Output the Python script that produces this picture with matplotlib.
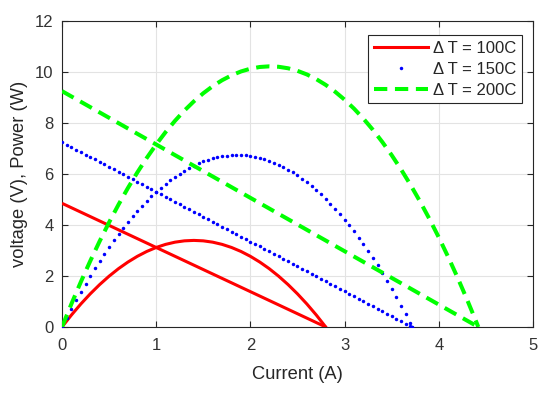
import matplotlib
matplotlib.use("Agg")
import matplotlib.pyplot as plt
from matplotlib.lines import Line2D

plt.rcParams['font.family'] = ['Liberation Sans', 'DejaVu Sans']

# ---- data ----
labels = ["\u0394 T = 100C", "\u0394 T = 150C", "\u0394 T = 200C"]

# dT = 100C
red_v_current = [0.0, 2.8]
red_voltage = [4.85, 0.0]
red_p_current = [0.0, 0.1, 0.2, 0.3, 0.4, 0.5, 0.6, 0.7, 0.8, 0.9, 1.0, 1.1, 1.2, 1.3,
                 1.4, 1.5, 1.6, 1.7, 1.8, 1.9, 2.0, 2.1, 2.2, 2.3, 2.4, 2.5, 2.6, 2.7, 2.8]
red_power = [0.0, 0.468, 0.901, 1.299, 1.663, 1.992, 2.287, 2.546, 2.771, 2.962, 3.118,
             3.239, 3.326, 3.378, 3.395, 3.378, 3.326, 3.239, 3.118, 2.962, 2.771, 2.546,
             2.287, 1.992, 1.663, 1.299, 0.901, 0.468, 0.0]

# dT = 150C (sampled points, drawn as dots)
blue_current = [0.00, 0.05, 0.10, 0.15, 0.20, 0.25, 0.30, 0.35, 0.40, 0.45, 0.50, 0.55,
                0.60, 0.65, 0.70, 0.75, 0.80, 0.85, 0.90, 0.95, 1.00, 1.05, 1.10, 1.15,
                1.20, 1.25, 1.30, 1.35, 1.40, 1.45, 1.50, 1.55, 1.60, 1.65, 1.70, 1.75,
                1.80, 1.85, 1.90, 1.95, 2.00, 2.05, 2.10, 2.15, 2.20, 2.25, 2.30, 2.35,
                2.40, 2.45, 2.50, 2.55, 2.60, 2.65, 2.70, 2.75, 2.80, 2.85, 2.90, 2.95,
                3.00, 3.05, 3.10, 3.15, 3.20, 3.25, 3.30, 3.35, 3.40, 3.45, 3.50, 3.55,
                3.60, 3.65, 3.70, 3.72]
blue_voltage = [7.250, 7.153, 7.055, 6.958, 6.860, 6.763, 6.665, 6.568, 6.470, 6.373,
                6.276, 6.178, 6.081, 5.983, 5.886, 5.788, 5.691, 5.593, 5.496, 5.399,
                5.301, 5.204, 5.106, 5.009, 4.911, 4.814, 4.716, 4.619, 4.521, 4.424,
                4.327, 4.229, 4.132, 4.034, 3.937, 3.839, 3.742, 3.645, 3.547, 3.450,
                3.352, 3.255, 3.157, 3.060, 2.962, 2.865, 2.768, 2.670, 2.573, 2.475,
                2.378, 2.280, 2.183, 2.085, 1.988, 1.890, 1.793, 1.696, 1.598, 1.501,
                1.403, 1.306, 1.208, 1.111, 1.013, 0.916, 0.819, 0.721, 0.624, 0.526,
                0.429, 0.331, 0.234, 0.136, 0.039, 0.000]
blue_power = [0.000, 0.358, 0.706, 1.044, 1.372, 1.691, 2.000, 2.299, 2.588, 2.868,
              3.138, 3.398, 3.649, 3.889, 4.120, 4.341, 4.553, 4.754, 4.946, 5.129,
              5.301, 5.464, 5.617, 5.760, 5.893, 6.018, 6.131, 6.236, 6.329, 6.415,
              6.491, 6.555, 6.611, 6.656, 6.693, 6.718, 6.736, 6.743, 6.739, 6.728,
              6.704, 6.673, 6.630, 6.579, 6.516, 6.446, 6.366, 6.275, 6.175, 6.064,
              5.945, 5.814, 5.676, 5.525, 5.368, 5.198, 5.020, 4.834, 4.634, 4.428,
              4.209, 3.983, 3.745, 3.500, 3.242, 2.977, 2.703, 2.415, 2.122, 1.815,
              1.502, 1.175, 0.842, 0.496, 0.144, 0.000]

# dT = 200C
green_v_current = [0.0, 4.42]
green_voltage = [9.25, 0.0]
green_p_current = [0.0, 0.1, 0.2, 0.3, 0.4, 0.5, 0.6, 0.7, 0.8, 0.9, 1.0, 1.1, 1.2, 1.3,
                   1.4, 1.5, 1.6, 1.7, 1.8, 1.9, 2.0, 2.1, 2.2, 2.3, 2.4, 2.5, 2.6, 2.7,
                   2.8, 2.9, 3.0, 3.1, 3.2, 3.3, 3.4, 3.5, 3.6, 3.7, 3.8, 3.9, 4.0, 4.1,
                   4.2, 4.3, 4.4, 4.42]
green_power = [0.0, 0.904, 1.766, 2.587, 3.365, 4.102, 4.797, 5.450, 6.061, 6.630, 7.157,
               7.643, 8.086, 8.488, 8.848, 9.166, 9.443, 9.677, 9.869, 10.020, 10.129,
               10.196, 10.221, 10.204, 10.146, 10.045, 9.903, 9.719, 9.493, 9.225, 8.915,
               8.564, 8.170, 7.735, 7.258, 6.739, 6.178, 5.575, 4.930, 4.244, 3.516,
               2.746, 1.934, 1.080, 0.184, 0.0]

x_ticks = [0, 1, 2, 3, 4, 5]
y_ticks = [0, 2, 4, 6, 8, 10, 12]

# ---- figure ----
fig = plt.figure(figsize=(5.5, 3.93), dpi=100)
ax = fig.add_axes([0.1127, 0.168, 0.8563, 0.7786])

RED = '#ff0000'
BLUE = '#0000ff'
GREEN = '#00ff00'
LW_R = 2.2
LW_G = 2.9
DASH = (3.3, 1.9)
MS = 2.5

ax.plot(red_v_current, red_voltage, color=RED, lw=LW_R, solid_capstyle='butt', zorder=3)
ax.plot(red_p_current, red_power, color=RED, lw=LW_R, zorder=3)

ax.plot(blue_current, blue_voltage, linestyle='none', marker='o', ms=MS, mew=0,
        color=BLUE, zorder=3)
ax.plot(blue_current, blue_power, linestyle='none', marker='o', ms=MS, mew=0,
        color=BLUE, zorder=3)

ax.plot(green_v_current, green_voltage, color=GREEN, lw=LW_G, dashes=DASH,
        dash_capstyle='butt', zorder=3)
ax.plot(green_p_current, green_power, color=GREEN, lw=LW_G, dashes=DASH,
        dash_capstyle='butt', zorder=3)

ax.set_xlim(0, 5)
ax.set_ylim(0, 12)
ax.set_xticks(x_ticks)
ax.set_yticks(y_ticks)
ax.grid(True, color='#e3e3e3', lw=0.8)
ax.set_axisbelow(True)

dark = '#262626'
for s in ax.spines.values():
    s.set_color(dark)
    s.set_linewidth(0.8)
ax.tick_params(direction='in', top=True, right=True, length=4, width=0.8,
               colors=dark, labelsize=12, labelcolor='#333333')
ax.tick_params(axis='x', pad=8)
ax.tick_params(axis='y', pad=6)

ax.set_xlabel('Current (A)', fontsize=13.2, color='#262626', labelpad=9)
ax.set_ylabel('voltage (V), Power (W)', fontsize=13.2, color='#262626', labelpad=5)

handles = [
    Line2D([], [], color=RED, lw=LW_R),
    Line2D([], [], linestyle='none', marker='o', ms=MS, mew=0, color=BLUE),
    Line2D([], [], color=GREEN, lw=LW_G, dashes=DASH),
]
leg = ax.legend(handles, labels, loc='upper right', bbox_to_anchor=(0.977, 0.955),
                fontsize=12, frameon=True, fancybox=False, handlelength=3.25,
                handletextpad=0.3, borderpad=0.35, labelspacing=0.36,
                borderaxespad=0.0)
leg.get_frame().set_edgecolor(dark)
leg.get_frame().set_linewidth(0.8)
leg.get_frame().set_alpha(1)
for t in leg.get_texts():
    t.set_color('#262626')

fig.savefig('out.png', dpi=100)
